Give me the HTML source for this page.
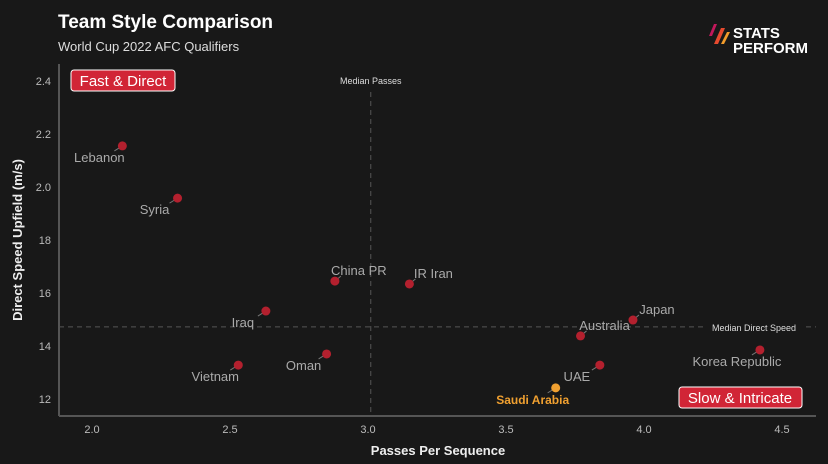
<!DOCTYPE html>
<html><head><meta charset="utf-8"><style>
html,body{margin:0;padding:0;background:#181818;}
svg{display:block;font-family:"Liberation Sans",sans-serif;}
</style></head><body>
<svg id="chart" width="828" height="464" viewBox="0 0 828 464">
<rect width="828" height="464" fill="#181818"/>
<text x="58" y="28" fill="#fff" font-size="19" font-weight="bold">Team Style Comparison</text>
<text x="58" y="51" fill="#ddd" font-size="13">World Cup 2022 AFC Qualifiers</text>
<g>
<polygon points="709,36 714,24 717,24 712,36" fill="#c2185b"/>
<polygon points="714,44 721,28 725,28 718,44" fill="#e64a2e"/>
<polygon points="721,44 727,32 730,32 724,44" fill="#f39c2b"/>
<text x="733" y="38" fill="#fff" font-size="15" font-weight="bold">STATS</text>
<text x="733" y="53" fill="#fff" font-size="15" font-weight="bold">PERFORM</text>
</g>
<line x1="59" y1="64" x2="59" y2="416" stroke="#555" stroke-width="2"/>
<line x1="59" y1="416" x2="816" y2="416" stroke="#555" stroke-width="2"/>
<g id="ticks"></g>
<g id="medians"></g>
<g id="points"></g>
<text x="258" y="455" fill="#eee" font-size="13" font-weight="bold" text-anchor="middle" transform="translate(180,0)">Passes Per Sequence</text>
<text transform="translate(22,240) rotate(-90)" fill="#eee" font-size="13" font-weight="bold" text-anchor="middle">Direct Speed Upfield (m/s)</text>
<g>
<rect x="71" y="70" width="104" height="21" rx="3" fill="#d12536" stroke="#fff" stroke-width="1"/>
<text x="123" y="86" fill="#fff" font-size="15" text-anchor="middle">Fast &amp; Direct</text>
</g>
<g>
<rect x="679" y="387" width="123" height="21" rx="3" fill="#d12536" stroke="#fff" stroke-width="1"/>
<text x="740" y="403" fill="#fff" font-size="15" text-anchor="middle">Slow &amp; Intricate</text>
</g>
</svg>
<script>
const teams=["Lebanon","Syria","China PR","IR Iran","Iraq","Oman","Vietnam","Australia","Japan","UAE","Saudi Arabia","Korea Republic"];
const passes=[2.11,2.31,2.88,3.15,2.63,2.85,2.53,3.77,3.96,3.84,3.68,4.42];
const speed=[21.55,19.58,16.45,16.34,15.32,13.7,13.28,14.38,14.98,13.28,12.42,13.85];
const labelSide=["bl","bl","tr","tr","bl","bl","bl","tr","tr","bl","bl","bl"];
const xTicks=[2.0,2.5,3.0,3.5,4.0,4.5];
const xTickLabels=["2.0","2.5","3.0","3.5","4.0","4.5"];
const yTicks=[24,22,20,18,16,14,12];
const yTickLabels=["2.4","2.2","2.0","18","16","14","12"];
const medianPasses=3.01;
const medianSpeed=14.72;
const X=v=>92+(v-2)*276;
const Y=v=>81+(24-v)*26.5;
const NS="http://www.w3.org/2000/svg";
function mk(tag,attrs,parent,txt){const e=document.createElementNS(NS,tag);for(const k in attrs)e.setAttribute(k,attrs[k]);if(txt!==undefined)e.textContent=txt;parent.appendChild(e);return e;}
const tg=document.getElementById('ticks');
xTicks.forEach((v,i)=>{const t=mk('text',{x:X(v),y:433,fill:'#bbb','font-size':11,'text-anchor':'middle'},tg,xTickLabels[i]);

});
yTicks.forEach((v,i)=>{const t=mk('text',{x:51,y:Y(v)+4,fill:'#bbb','font-size':11,'text-anchor':'end'},tg,yTickLabels[i]);

});
const mg=document.getElementById('medians');
const l1=mk('line',{x1:X(medianPasses),y1:92,x2:X(medianPasses),y2:416,stroke:'#555','stroke-dasharray':'5,4'},mg);


const t1=mk('text',{x:X(medianPasses),y:84,fill:'#ddd','font-size':9,'text-anchor':'middle'},mg,'Median Passes');


const l2=mk('line',{x1:59,y1:Y(medianSpeed),x2:816,y2:Y(medianSpeed),stroke:'#555','stroke-dasharray':'5,4'},mg);


const r2=mk('rect',{x:706,y:Y(medianSpeed)-7,width:96,height:13,fill:'#181818'},mg);
const t2=mk('text',{x:754,y:Y(medianSpeed)+4,fill:'#ddd','font-size':9,'text-anchor':'middle'},mg,'Median Direct Speed');


const pg=document.getElementById('points');
teams.forEach((n,i)=>{
 const cx=X(passes[i]),cy=Y(speed[i]);
 const sa=n==="Saudi Arabia";
 const col=sa?'#f0a030':'#b3202e';
 const g=mk('g',{},pg);
 
 
 let lx,ly,anchor;
 if(labelSide[i]==="bl"){mk('line',{x1:cx,y1:cy,x2:cx-8,y2:cy+5,stroke:'#777','stroke-width':1},g);lx=cx-23;ly=cy+16;}
 else{mk('line',{x1:cx,y1:cy,x2:cx+6,y2:cy-5,stroke:'#777','stroke-width':1},g);lx=cx+24;ly=cy-6;}
 mk('circle',{cx:cx,cy:cy,r:4.5,fill:col},g);
 mk('text',{x:lx,y:ly,fill:sa?'#f0a030':'#aaa','font-size':sa?12:13,'font-weight':sa?'bold':'normal','text-anchor':'middle'},g,n);
});
</script>
</body></html>
